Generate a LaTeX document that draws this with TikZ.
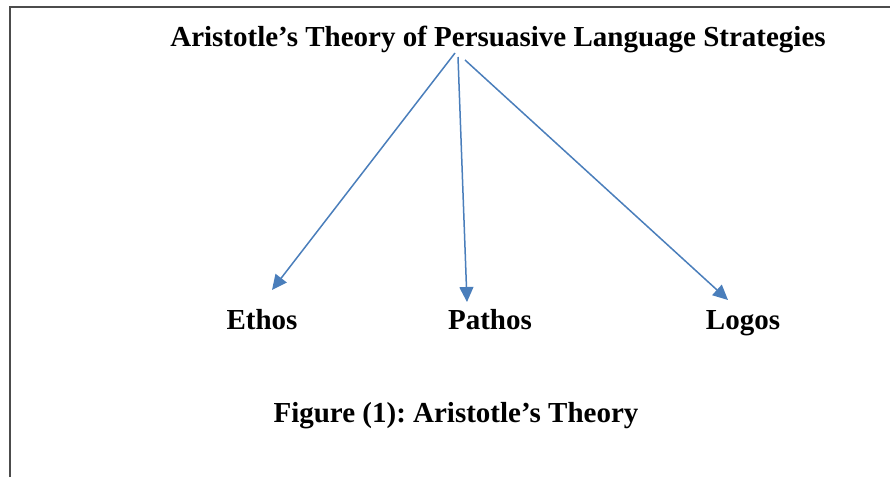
\documentclass[tikz,border=0pt]{standalone}
\usepackage{fontspec}
\setmainfont{Liberation Serif}
\usetikzlibrary{arrows.meta}
\definecolor{arrowblue}{RGB}{74,126,187}
\frenchspacing
\begin{document}
\begin{tikzpicture}[x=1pt,y=-1pt,>={Triangle[length=15pt,width=14pt]},line width=1.5pt,font=\fontsize{29}{34}\selectfont\bfseries]
  \useasboundingbox (0,0) rectangle (890,477);
  \draw[line width=2pt,black!70] (10,477)--(10,7)--(890,7);
  \node[inner sep=0pt,anchor=base] (title) at (498,46) {Aristotle’s Theory of Persuasive Language Strategies};
  \node[inner sep=0pt,anchor=base] (ethos) at (262,329) {Ethos};
  \node[inner sep=0pt,anchor=base] (pathos) at (490,329) {Pathos};
  \node[inner sep=0pt,anchor=base] (logos) at (743,329) {Logos};
  \node[inner sep=0pt,anchor=base] (caption) at (456,422) {Figure (1): Aristotle’s Theory};
  \coordinate (e0) at (455,53);
  \coordinate (p0) at (458,57);
  \coordinate (l0) at (465,60);
  \coordinate (e1) at (272,290);
  \coordinate (p1) at (467,302);
  \coordinate (l1) at (728,300);
  \draw[->,arrowblue] (e0)--(e1);
  \draw[->,arrowblue] (p0)--(p1);
  \draw[->,arrowblue] (l0)--(l1);
\end{tikzpicture}
\end{document}
